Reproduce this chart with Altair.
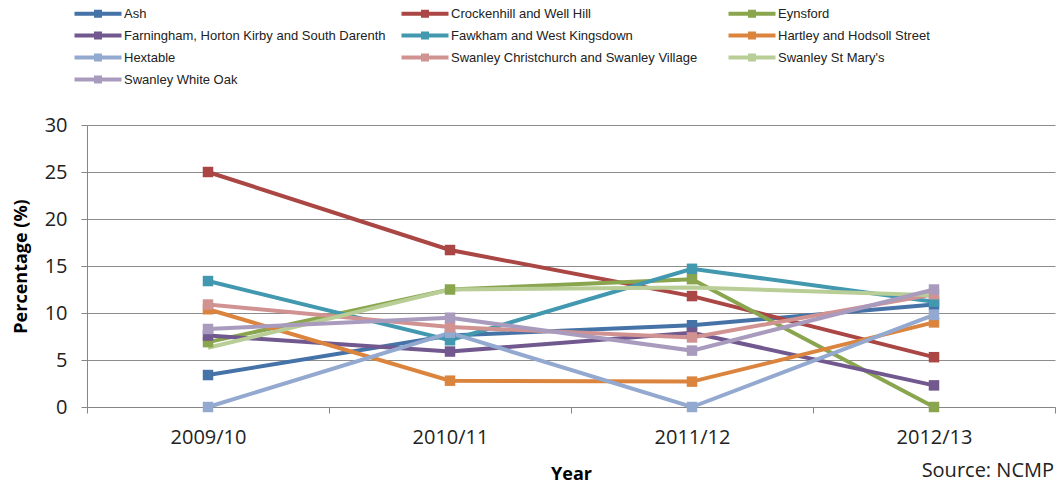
import altair as alt
import pandas as pd

years = ["2009/10", "2010/11", "2011/12", "2012/13"]
series = [
    "Ash",
    "Crockenhill and Well Hill",
    "Eynsford",
    "Farningham, Horton Kirby and South Darenth",
    "Fawkham and West Kingsdown",
    "Hartley and Hodsoll Street",
    "Hextable",
    "Swanley Christchurch and Swanley Village",
    "Swanley St Mary's",
    "Swanley White Oak",
]
colors = ["#4572A7", "#AA4643", "#89A54E", "#71588F", "#4198AF",
          "#DB843D", "#93A9CF", "#D19392", "#B9CD96", "#A99BBD"]

ash = [3.4, 7.6, 8.7, 10.9]
crockenhill = [25.0, 16.7, 11.8, 5.3]
eynsford = [6.9, 12.5, 13.6, 0.0]
farningham = [7.6, 5.9, 7.9, 2.3]
fawkham = [13.4, 7.1, 14.7, 11.2]
hartley = [10.4, 2.8, 2.7, 9.0]
hextable = [0.0, 7.9, 0.0, 9.8]
christchurch = [10.9, 8.5, 7.4, 12.0]
stmarys = [6.3, 12.5, 12.7, 11.9]
whiteoak = [8.3, 9.5, 6.0, 12.5]

values = [ash, crockenhill, eynsford, farningham, fawkham,
          hartley, hextable, christchurch, stmarys, whiteoak]

rows = []
for i, (name, vals) in enumerate(zip(series, values)):
    for y, v in zip(years, vals):
        rows.append({"Ward": name, "Year": y, "Value": v, "order": i})
df = pd.DataFrame(rows)

FONT = "Open Sans"

color = alt.Color(
    "Ward:N",
    scale=alt.Scale(domain=series, range=colors),
    sort=series,
    legend=alt.Legend(
        title=None,
        orient="none",
        direction="horizontal",
        legendX=-14,
        legendY=-118,
        columns=3,
        gridAlign="all",
        columnPadding=14,
        rowPadding=8,
        symbolType="M-1,-0.4 L8.4,-0.4 L8.4,0.4 L-1,0.4 Z M2.9,-0.8 L4.5,-0.8 L4.5,0.8 L2.9,0.8 Z",
        symbolSize=100,
        symbolStrokeWidth=0,
        symbolOpacity=1,
        labelOffset=38,
        labelFont="Liberation Sans",
        labelFontSize=13,
        labelColor="#222222",
        labelLimit=400,
    ),
)

x = alt.X(
    "Year:N",
    sort=years,
    scale=alt.Scale(paddingInner=0, paddingOuter=0),
    axis=alt.Axis(
        title="Year",
        titleFont=FONT,
        titleFontSize=18,
        titleFontWeight="bold",
        titleColor="#000000",
        titlePadding=18,
        labelFont=FONT,
        labelFontSize=20,
        labelColor="#222222",
        labelAngle=0,
        labelPadding=14,
        tickBand="extent",
        tickSize=6,
        tickColor="#868686",
        domainColor="#868686",
        grid=False,
    ),
)

y = alt.Y(
    "Value:Q",
    scale=alt.Scale(domain=[0, 30], nice=False),
    axis=alt.Axis(
        title="Percentage (%)",
        titleFont=FONT,
        titleFontSize=18,
        titleFontWeight="bold",
        titleColor="#000000",
        titlePadding=14,
        values=[0, 5, 10, 15, 20, 25, 30],
        labelFont=FONT,
        labelFontSize=20,
        labelColor="#222222",
        labelPadding=14,
        tickSize=6,
        tickColor="#868686",
        domainColor="#868686",
        gridColor="#8C8C8C",
        gridWidth=1,
    ),
)

base = alt.Chart(df)

lines = base.mark_line(strokeWidth=4).encode(
    x=x, y=y, color=color, detail="Ward:N", order="order:Q"
)

squares = base.transform_filter(
    alt.datum.Ward != "Swanley St Mary's"
).mark_square(size=110, opacity=1, filled=True).encode(
    x=x, y=y, color=color
)

source = alt.Chart(pd.DataFrame({"t": ["Source: NCMP"]})).mark_text(
    font=FONT, fontSize=20, align="right", baseline="middle", color="#222222"
).encode(text="t:N", x=alt.value(967), y=alt.value(346))

chart = alt.layer(lines, squares, source).properties(
    width=968,
    height=282,
    padding={"left": 87, "top": 125, "right": 4, "bottom": 77},
    autosize="none",
    background="white",
).configure_view(stroke=None)

chart.save("out.html", embed_options={"renderer": "svg", "actions": False})
